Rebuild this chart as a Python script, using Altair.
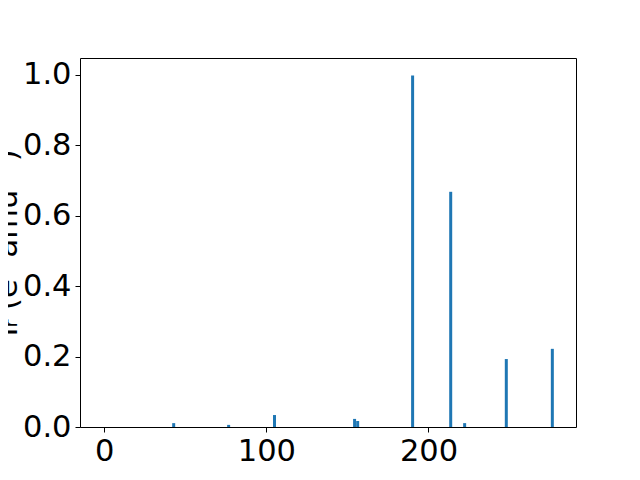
import altair as alt
import pandas as pd

freqs = [42.8, 76.7, 105.0, 154.4, 156.3, 190.2, 213.7, 222.3, 248.0, 276.4]
intens = [0.011, 0.006, 0.034, 0.023, 0.017, 0.998, 0.668, 0.011, 0.193, 0.222]
x_ticks = [0, 100, 200]
y_ticks = [0.0, 0.2, 0.4, 0.6, 0.8, 1.0]

df = pd.DataFrame({"freq": freqs, "intensity": intens})

chart = alt.Chart(df).mark_bar(size=3, color="#1f77b4").encode(
    x=alt.X(
        "freq:Q",
        scale=alt.Scale(domain=[-15, 291], nice=False, zero=False, padding=0),
        axis=alt.Axis(values=x_ticks, format="d", title="Frequency (cm⁻¹)",
                      titlePadding=4),
    ),
    y=alt.Y(
        "intensity:Q",
        scale=alt.Scale(domain=[0, 1.048], nice=False, padding=0),
        axis=alt.Axis(values=y_ticks, format=".1f", title="Iᵣ (e² amu⁻¹)",
                      titleX=-64, titleBaseline="alphabetic"),
    ),
).properties(
    width=496,
    height=369,
    autosize="none",
    padding={"left": 72, "top": 50, "right": 50, "bottom": 45},
).configure_view(
    stroke="black", strokeWidth=1
).configure_axis(
    domain=False,
    grid=False,
    ticks=True,
    tickColor="black",
    tickSize=5,
    tickWidth=1,
    labelFont="DejaVu Sans",
    labelFontSize=30.5,
    labelColor="black",
    labelPadding=4,
    titleFont="DejaVu Sans",
    titleFontSize=30.5,
    titleFontWeight="normal",
    titleColor="black",
)

chart.save("out.html", embed_options={"renderer": "svg", "actions": False})
